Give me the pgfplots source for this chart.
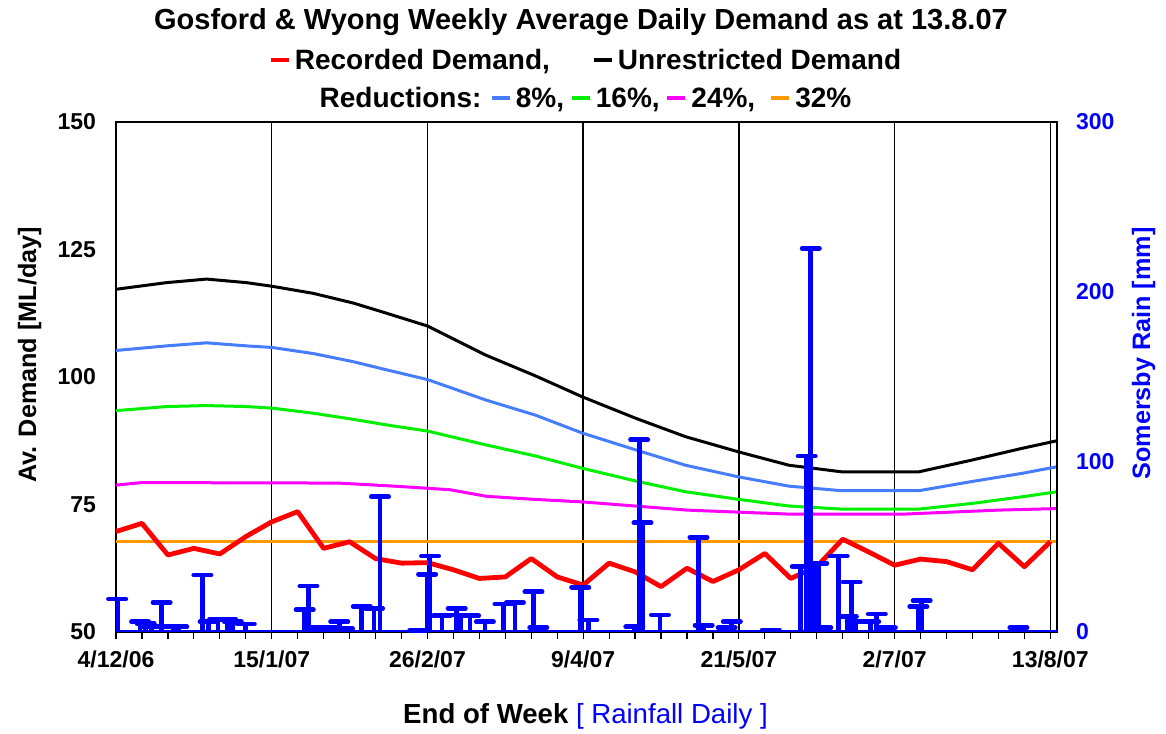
\documentclass[border=0pt]{standalone}
\usepackage{fontspec}
\setmainfont{Liberation Sans}
\usepackage{pgfplots}
\pgfplotsset{compat=1.18}
\definecolor{cBlue}{RGB}{70,125,255}
\definecolor{cGreen}{RGB}{0,240,0}
\definecolor{cMag}{RGB}{255,0,255}
\definecolor{cOrange}{RGB}{255,153,0}
\definecolor{cRed}{RGB}{255,0,0}
\definecolor{rainblue}{RGB}{0,0,255}
\newcommand{\dash}[1]{\textcolor{#1}{\rule[0.3em]{9pt}{1.6pt}}\hspace{3pt}}
\begin{document}
\begin{tikzpicture}
\path[use as bounding box] (-58pt,-50.5pt) rectangle (525pt,316pt);
\begin{axis}[
  at={(0,0)}, anchor=south west,
  scale only axis, width=470.5pt, height=255pt,
  xmin=0, xmax=253.8, ymin=50, ymax=150,
  axis line style={black, line width=0.8pt},
  xtick={0,42,84,126,168,210,252},
  xticklabels={4/12/06,15/1/07,26/2/07,9/4/07,21/5/07,2/7/07,13/8/07},
  minor xtick={7,14,...,245},
  xmajorgrids, grid style={black, line width=0.7pt},
  x tick style={black, line width=0.6pt},
  tick align=outside,
  xtick pos=bottom,
  major tick length=3.5pt, minor tick length=3.5pt,
  ytick={50,75,100,125,150},
  ytick style={draw=none},
  ytick pos=left,
  tick label style={font=\fontsize{11.5}{12}\selectfont\bfseries},
  /pgf/number format/assume math mode=true,
  xticklabel style={yshift=-2.5pt},
  yticklabel style={xshift=-3pt},
  clip=true,
]
% Unrestricted demand
\addplot[black, line width=1.5pt] coordinates {
(0,117.2) (13.6,118.5) (24.4,119.2) (35.2,118.5) (42,117.8) (53.2,116.4) (64,114.5) (73,112.5) (84,110.0)
(99.7,104.3) (113.2,100.2) (125.8,96.1) (140.2,91.9) (153.6,88.3) (168,85.3) (181.5,82.7) (195.8,81.4)
(209.7,81.4) (216.5,81.4) (230.8,83.7) (244.3,86.0) (253.8,87.5)};
% 8%
\addplot[cBlue, line width=1.5pt] coordinates {
(0,105.2) (13.6,106.1) (24.4,106.7) (35.2,106.1) (42,105.8) (53.2,104.6) (64,103.0) (73,101.4) (84,99.5)
(99.7,95.5) (113.2,92.5) (125.8,89.0) (140.2,85.7) (153.6,82.7) (168,80.4) (181.5,78.6) (195.8,77.7)
(216.5,77.7) (230.8,79.5) (244.3,81.1) (253.8,82.4)};
% 16%
\addplot[cGreen, line width=1.5pt] coordinates {
(0,93.4) (13.6,94.2) (24.4,94.4) (35.2,94.2) (42,93.9) (53.2,92.9) (64,91.7) (73,90.6) (84,89.4)
(99.7,86.7) (113.2,84.5) (125.8,82.1) (140.2,79.6) (153.6,77.5) (168,76.0) (181.5,74.7) (195.8,74.1)
(216.5,74.1) (230.8,75.2) (244.3,76.5) (253.8,77.5)};
% 24%
\addplot[cMag, line width=1.5pt] coordinates {
(0,78.8) (7,79.3) (60,79.2) (75,78.6) (90,77.9) (100,76.6) (113,76.0) (126,75.5) (140,74.7) (154,73.9)
(168,73.5) (182,73.1) (212,73.1) (225,73.5) (238,73.9) (253.8,74.2)};
% 32%
\addplot[cOrange, line width=1.4pt] coordinates {(0,67.7) (253.8,67.7)};
% Recorded demand
\addplot[cRed, line width=2.4pt, line join=round] coordinates {
(0,69.7) (7,71.3) (14,65.1) (21,66.4) (28,65.3) (35,68.7) (42,71.6) (49,73.6) (56,66.4) (63,67.7)
(70,64.4) (77,63.5) (84,63.6) (91,62.2) (98,60.5) (105,60.8) (112,64.4) (119,60.8) (126,59.2)
(133,63.5) (140,61.8) (147,58.9) (154,62.5) (161,59.9) (168,62.2) (175,65.4) (182,60.5) (189,62.8)
(196,68.2) (203,65.7) (210,63.1) (217,64.3) (224,63.8) (231,62.2) (238,67.4) (245,62.8) (252,67.7)};
\end{axis}
\begin{axis}[
  at={(0,0)}, anchor=south west,
  scale only axis, width=470.5pt, height=255pt,
  xmin=0, xmax=253.8, ymin=0, ymax=300,
  axis x line=none, axis y line*=right,
  axis line style={black, line width=0.8pt},
  ytick={0,100,200,300},
  ytick style={draw=none},
  tick align=outside,
  major tick length=3.5pt,
  tick label style={font=\fontsize{11.5}{12}\selectfont\bfseries, text=rainblue},
  /pgf/number format/assume math mode=true,
  yticklabel style={xshift=2.5pt},
  clip=true,
]
\addplot[rainblue, line width=2pt] coordinates {(0,0) (253.8,0)};
\addplot[rainblue, ycomb, line width=2.4pt, mark=-, mark size=4.3pt,
  mark options={line width=2.4pt, line cap=round}] coordinates {
(0.3,19.4) (6.5,6) (8,5) (9.5,3) (12.3,17.3) (15.5,3) (16.8,3) (23.3,33.5) (25,6)
(27.5,7.4) (30,7.4) (31.5,6) (35,4.7) (50.9,13) (51.9,27) (55,2.7) (57,2.7) (60.2,6) (61.5,2)
(66.3,15) (69.6,14) (71.2,79.6) (81.5,1) (83.9,34) (84.7,44.7) (87.9,9.6) (91.9,14) (93,10)
(95.5,9.6) (99.5,6) (104.5,16.5) (107.6,17.3) (112.6,23.7) (113.9,2.5) (125.2,26.3) (127.4,7)
(139.8,3) (141.1,113) (142,64.3) (146.7,10) (157.1,55.7) (158.5,4) (164.7,2.5) (166.1,6)
(176.6,1.2) (184.7,38.4) (186.3,103.5) (187.4,225.7) (188.6,40.4) (189.4,40.4) (190.5,2.5)
(194.9,44.7) (197.4,9) (198.4,29.4) (199.5,6) (203.4,6) (205.2,10.6) (207.9,2.5)
(216.4,14.9) (217.3,18.4) (243.4,2.5)};
\end{axis}
\node[font=\fontsize{14.5}{17}\selectfont\bfseries] at (232.5pt,305pt)
  {Gosford \& Wyong Weekly Average Daily Demand as at 13.8.07};
\node[font=\fontsize{14}{16}\selectfont\bfseries] at (235pt,285pt)
  {\dash{cRed}Recorded Demand,\hspace{22pt}\dash{black}Unrestricted Demand};
\node[font=\fontsize{14}{16}\selectfont\bfseries] at (234.75pt,266pt)
  {Reductions: \dash{cBlue}8\%, \dash{cGreen}16\%, \dash{cMag}24\%,\hspace{8pt}\dash{cOrange}32\%};
\node[font=\fontsize{13.8}{16}\selectfont] at (234.75pt,-42pt)
  {\bfseries End of Week \textcolor{rainblue}{\mdseries [ Rainfall Daily ]}};
\node[rotate=90, font=\fontsize{12.6}{15}\selectfont\bfseries] at (-43.25pt,138.5pt)
  {Av. Demand [ML/day]};
\node[rotate=90, text=rainblue, font=\fontsize{12.6}{15}\selectfont\bfseries] at (513.75pt,139.25pt)
  {Somersby Rain [mm]};
\end{tikzpicture}
\end{document}
